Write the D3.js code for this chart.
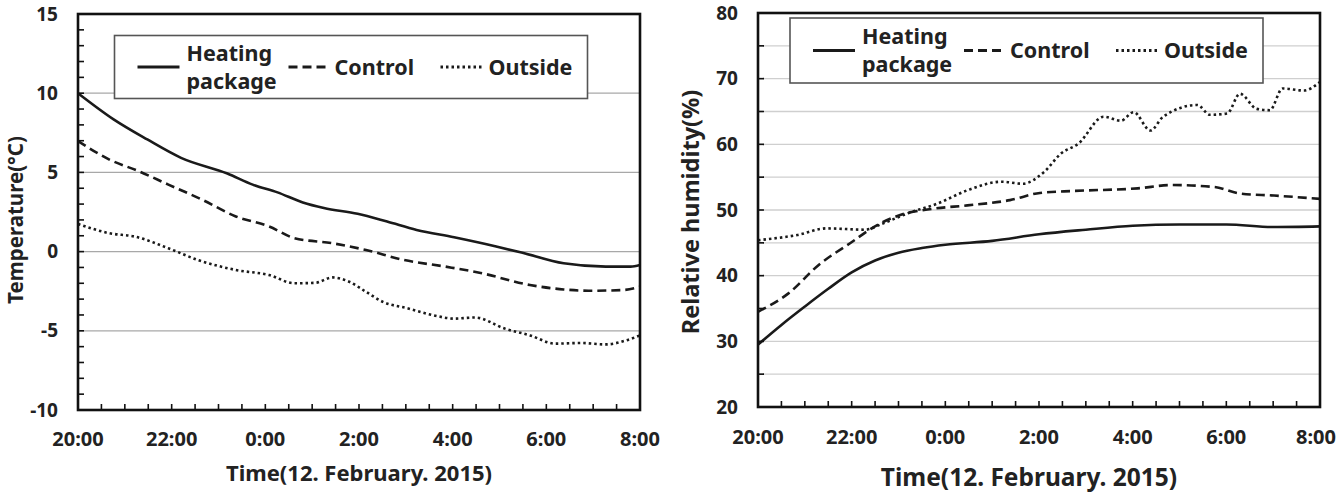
<!DOCTYPE html>
<html>
<head>
<meta charset="utf-8">
<script src="https://cdn.jsdelivr.net/npm/d3@7"></script>
<style>
  body { margin: 0; background: #fff; }
  text { font-family: "Noto Sans", "DejaVu Sans", sans-serif; font-weight: bold; fill: #222; }
</style>
</head>
<body>
<svg id="chart" width="1337" height="494"></svg>
<script>
// hours after 20:00 (12 Feb 2015)
const timeTicks = ["20:00", "22:00", "0:00", "2:00", "4:00", "6:00", "8:00"];
const seriesNames = ["Heating package", "Control", "Outside"];

// temperature (°C)
const tempHeatingT = [0, 0.76, 1.48, 2.2, 3.19, 3.73, 4.26, 4.8, 5.25, 5.97, 6.6, 7.23, 8.03, 8.93, 9.47, 10.37, 11.27, 11.8, 12];
const tempHeating  = [10, 8.35, 7.08, 5.92, 4.93, 4.23, 3.74, 3.1, 2.75, 2.39, 1.9, 1.37, 0.9, 0.32, -0.06, -0.74, -0.95, -0.95, -0.85];
const tempControlT = [0, 0.67, 1.3, 1.93, 2.65, 3.37, 4.08, 4.62, 5.43, 6.15, 6.96, 7.85, 8.57, 9.65, 10.37, 10.9, 11.62, 12];
const tempControl  = [6.98, 5.81, 5.07, 4.23, 3.28, 2.22, 1.59, 0.85, 0.53, 0.1, -0.53, -0.95, -1.33, -2.11, -2.39, -2.47, -2.43, -2.22];
const tempOutsideT = [0, 0.67, 1.21, 1.93, 2.56, 3.37, 4.08, 4.62, 5.07, 5.43, 5.79, 6.15, 6.51, 7.05, 7.59, 8.03, 8.48, 9.11, 9.65, 10.19, 10.73, 11.27, 11.71, 12];
const tempOutside  = [1.75, 1.16, 0.95, 0.21, -0.53, -1.16, -1.48, -2.0, -1.97, -1.63, -1.9, -2.54, -3.17, -3.59, -4.02, -4.23, -4.16, -4.86, -5.29, -5.81, -5.77, -5.86, -5.6, -5.29];

// relative humidity (%)
const rhHeatingT = [0, 0.5, 1, 1.5, 2, 2.5, 3, 3.5, 4, 5, 6, 7, 8, 9, 10, 11, 12];
const rhHeating  = [29.5, 32.5, 35.3, 38, 40.5, 42.3, 43.5, 44.2, 44.7, 45.3, 46.3, 47, 47.6, 47.8, 47.8, 47.4, 47.5];
const rhControlT = [0, 0.65, 1.29, 2.02, 2.47, 3.02, 3.75, 4.47, 5.38, 6.02, 6.75, 8.11, 8.84, 9.75, 10.29, 11.02, 12];
const rhControl  = [34.5, 37.3, 41.6, 45.2, 47.4, 49.2, 50.2, 50.7, 51.5, 52.6, 52.9, 53.3, 53.8, 53.5, 52.5, 52.2, 51.7];
const rhOutsideT = [0, 0.84, 1.47, 2.29, 2.65, 3.2, 3.84, 4.47, 5.2, 5.65, 6.11, 6.47, 6.84, 7.38, 7.75, 8.02, 8.38, 8.65, 9.38, 9.65, 10.02, 10.29, 10.65, 10.93, 11.2, 11.65, 12];
const rhOutside  = [45.4, 46.2, 47.2, 47.0, 47.9, 49.5, 51, 53, 54.3, 54, 55.8, 58.6, 60.1, 64.2, 63.6, 64.9, 62.1, 64.2, 66, 64.5, 64.7, 67.7, 65.4, 65.2, 68.5, 68.2, 69.5];

const svg = d3.select("#chart");
const svgWidth = +svg.attr("width");
const dashes = [null, "9,5", "2.5,3"];

function drawPanel(opt) {
    const g = svg.append("g").attr("transform", `translate(${opt.left},${opt.top})`);
    const width = opt.width, height = opt.height;

    const x = d3.scaleLinear().domain([0, 12]).range([0, width]);
    const y = d3.scaleLinear().domain(opt.yDomain).range([height, 0]);

    // grid
    g.append("g").selectAll("line")
        .data(opt.grid)
        .join("line")
        .attr("x1", 0).attr("x2", width)
        .attr("y1", d => y(d)).attr("y2", d => y(d))
        .attr("stroke", opt.gridColor)
        .attr("stroke-width", 1.3);

    // series
    const line = d3.line()
        .x(d => x(d[0]))
        .y(d => y(d[1]))
        .curve(d3.curveMonotoneX);
    opt.series.forEach((s, i) => {
        g.append("path")
            .datum(d3.zip(s[0], s[1]))
            .attr("d", line)
            .attr("fill", "none")
            .attr("stroke", "#1a1a1a")
            .attr("stroke-width", 2.6)
            .attr("stroke-dasharray", dashes[i]);
    });

    // inner ticks
    g.append("g").selectAll("line")
        .data(d3.range(0, 12.01, 0.5))
        .join("line")
        .attr("x1", d => x(d)).attr("x2", d => x(d))
        .attr("y1", height).attr("y2", height - 6)
        .attr("stroke", "#111").attr("stroke-width", 1.6);
    g.append("g").selectAll("line")
        .data(d3.range(opt.yDomain[0], opt.yDomain[1] + 0.01, opt.minorStep))
        .join("line")
        .attr("x1", 0).attr("x2", 6)
        .attr("y1", d => y(d)).attr("y2", d => y(d))
        .attr("stroke", "#111").attr("stroke-width", 1.6);

    // frame
    g.append("rect")
        .attr("width", width).attr("height", height)
        .attr("fill", "none")
        .attr("stroke", "#111")
        .attr("stroke-width", 2.6);

    // tick labels
    g.append("g").selectAll("text")
        .data(opt.yTicks)
        .join("text")
        .attr("x", -20)
        .attr("y", d => y(d))
        .attr("dy", "0.35em")
        .attr("text-anchor", "end")
        .attr("font-size", 19)
        .text(d => d);
    g.append("g").selectAll("text")
        .data(timeTicks)
        .join("text")
        .attr("x", (d, i) => x(i * 2))
        .attr("y", height + opt.xTickY)
        .attr("dy", "0.35em")
        .attr("text-anchor", "middle")
        .attr("font-size", 20)
        .text(d => d)
        .each(function () {
            // keep the last label inside the page
            const w = this.getComputedTextLength();
            const cx = +this.getAttribute("x");
            const over = opt.left + cx + w / 2 - (svgWidth - 1);
            if (over > 0) this.setAttribute("x", cx - over);
        });

    // axis titles
    g.append("text")
        .attr("x", width / 2 + opt.xTitleShift)
        .attr("y", height + opt.xTitleY)
        .attr("dy", "0.35em")
        .attr("text-anchor", "middle")
        .attr("font-size", opt.xTitleSize)
        .text("Time(12. February. 2015)");
    g.append("text")
        .attr("transform", `translate(${opt.yTitleX},${opt.yTitleY}) rotate(-90)`)
        .attr("dy", "0.35em")
        .attr("text-anchor", "middle")
        .attr("font-size", opt.yTitleSize)
        .text(opt.yTitle);

    // legend
    const lg = g.append("g").attr("transform", `translate(${opt.legend[0]},${opt.legend[1]})`);
    lg.append("rect")
        .attr("width", 473).attr("height", opt.legend[2])
        .attr("fill", "#fff")
        .attr("stroke", "#555")
        .attr("stroke-width", 1.6);
    const mid = opt.legend[2] / 2;
    const items = [[23, 65, 72], [174, 214, 220], [326, 368, 374]];
    items.forEach((it, i) => {
        lg.append("line")
            .attr("x1", it[0]).attr("x2", it[1])
            .attr("y1", mid).attr("y2", mid)
            .attr("stroke", "#1a1a1a")
            .attr("stroke-width", 2.8)
            .attr("stroke-dasharray", dashes[i]);
        const t = lg.append("text")
            .attr("x", it[2])
            .attr("font-size", 21.5);
        if (i === 0) {
            t.append("tspan").attr("x", it[2]).attr("y", mid - 14).attr("dy", "0.35em").text("Heating");
            t.append("tspan").attr("x", it[2]).attr("y", mid + 14).attr("dy", "0.35em").text("package");
        } else {
            t.attr("y", mid).attr("dy", "0.35em").text(seriesNames[i]);
        }
    });
}

drawPanel({
    left: 78, top: 14, width: 562, height: 396,
    yDomain: [-10, 15], grid: [-5, 0, 5, 10], gridColor: "#a8a8a8", minorStep: 1,
    yTicks: [15, 10, 5, 0, -5, -10],
    yTitle: "Temperature(°C)", yTitleX: -62, yTitleY: 206, yTitleSize: 20.5,
    xTickY: 29, xTitleY: 63, xTitleShift: 0, xTitleSize: 22,
    legend: [36.5, 21.5, 63],
    series: [[tempHeatingT, tempHeating], [tempControlT, tempControl], [tempOutsideT, tempOutside]]
});

drawPanel({
    left: 758, top: 13, width: 562, height: 394,
    yDomain: [20, 80], grid: [25, 30, 35, 40, 45, 50, 55, 60, 65, 70, 75], gridColor: "#cfcfcf", minorStep: 5,
    yTicks: [80, 70, 60, 50, 40, 30, 20],
    yTitle: "Relative humidity(%)", yTitleX: -67, yTitleY: 199, yTitleSize: 23.5,
    xTickY: 30, xTitleY: 70, xTitleShift: -10, xTitleSize: 24.5,
    legend: [32, 5, 65],
    series: [[rhHeatingT, rhHeating], [rhControlT, rhControl], [rhOutsideT, rhOutside]]
});
</script>
</body>
</html>
